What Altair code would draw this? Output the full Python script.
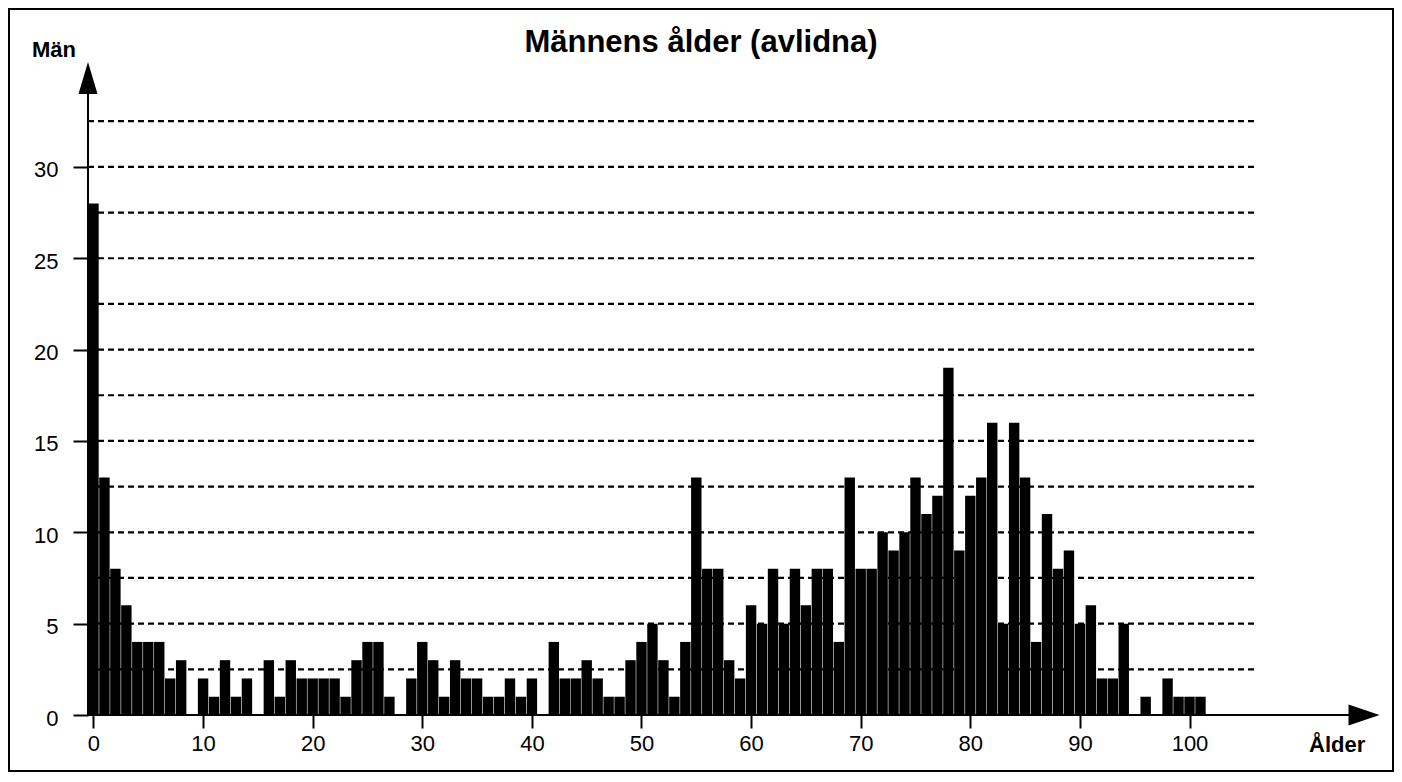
import altair as alt
import pandas as pd

# ---- data ----
ages = list(range(0, 102))
counts = [28, 13, 8, 6, 4, 4, 4, 2, 3, 0,
          2, 1, 3, 1, 2, 0, 3, 1, 3, 2,
          2, 2, 2, 1, 3, 4, 4, 1, 0, 2,
          4, 3, 1, 3, 2, 2, 1, 1, 2, 1,
          2, 0, 4, 2, 2, 3, 2, 1, 1, 3,
          4, 5, 3, 1, 4, 13, 8, 8, 3, 2,
          6, 5, 8, 5, 8, 6, 8, 8, 4, 13,
          8, 8, 10, 9, 10, 13, 11, 12, 19, 9,
          12, 13, 16, 5, 16, 13, 4, 11, 8, 9,
          5, 6, 2, 2, 5, 0, 1, 0, 2, 1,
          1, 1]
x_ticks = list(range(0, 101, 10))
y_ticks = [0, 5, 10, 15, 20, 25, 30]
grid_levels = [2.5, 5, 7.5, 10, 12.5, 15, 17.5, 20, 22.5, 25, 27.5, 30, 32.5]
grid_end_age = 106

title_text = "Männens ålder (avlidna)"
y_title = "Män"
x_title = "Ålder"

FONT = "Liberation Sans, Arial, Helvetica, sans-serif"
W, H = 1292, 653

df = pd.DataFrame({"age": ages, "count": counts})
gdf = pd.DataFrame({"g": grid_levels})
one = pd.DataFrame({"a": [0]})

xs = alt.Scale(domain=[-0.5, 117.38], nice=False, zero=False)
ys = alt.Scale(domain=[0, 35.74], nice=False, zero=True)

grid = alt.Chart(gdf).mark_rule(color="black", strokeWidth=2.2, strokeDash=[6, 4]).encode(
    x=alt.datum(-0.5, scale=xs),
    x2=alt.datum(grid_end_age),
    y=alt.Y("g:Q", scale=ys),
)

bars = alt.Chart(df).transform_calculate(
    x0="datum.age - 0.475", x1="datum.age + 0.475"
).mark_rect(color="black").encode(
    x=alt.X("x0:Q", scale=xs, axis=alt.Axis(
        values=x_ticks, domain=False, grid=False, tickSize=13, tickWidth=2,
        tickColor="black", labelFontSize=22, labelFont=FONT, labelColor="black",
        labelPadding=5, title=None, labelFlush=False)),
    x2="x1:Q",
    y=alt.Y("count:Q", scale=ys, axis=alt.Axis(
        values=y_ticks, domain=False, grid=False, tickSize=15, tickWidth=2,
        tickColor="black", labelFontSize=22, labelFont=FONT, labelColor="black",
        labelPadding=15, labelOffset=3, title=None)),
    y2=alt.datum(0),
)

yaxis_line = alt.Chart(one).mark_rule(color="black", strokeWidth=2).encode(
    x=alt.value(0), y=alt.value(30), y2=alt.value(H))
xaxis_line = alt.Chart(one).mark_rule(color="black", strokeWidth=2).encode(
    x=alt.value(-1), x2=alt.value(1262), y=alt.value(H))

up_arrow = alt.Chart(one).mark_point(
    filled=True, color="black", opacity=1, strokeWidth=0, size=1024,
    shape="M -0.594 1 L 0 -1 L 0.594 1 Z").encode(x=alt.value(0), y=alt.value(16))
right_arrow = alt.Chart(one).mark_point(
    filled=True, color="black", opacity=1, strokeWidth=0, size=961,
    shape="M -1 -0.677 L 1 0 L -1 0.677 Z").encode(x=alt.value(1276), y=alt.value(H))

title = alt.Chart(one).mark_text(
    text=title_text, font=FONT, fontSize=31, fontWeight="bold", color="black",
    align="center", baseline="alphabetic").encode(x=alt.value(613), y=alt.value(-10))
ylab = alt.Chart(one).mark_text(
    text=y_title, font=FONT, fontSize=22, fontWeight="bold", color="black",
    align="left", baseline="alphabetic").encode(x=alt.value(-56), y=alt.value(-5))
xlab = alt.Chart(one).mark_text(
    text=x_title, font=FONT, fontSize=22, fontWeight="bold", color="black",
    align="left", baseline="alphabetic").encode(x=alt.value(1221), y=alt.value(690))

border = alt.Chart(one).mark_rect(
    fillOpacity=0, stroke="black", strokeWidth=2).encode(
    x=alt.value(-79), x2=alt.value(1305), y=alt.value(-53), y2=alt.value(709))

chart = alt.layer(
    border, grid, bars, yaxis_line, xaxis_line, up_arrow, right_arrow, title, ylab, xlab
).properties(
    width=W, height=H,
    autosize=alt.AutoSizeParams(type="none"),
    padding={"left": 80, "top": 54, "right": 14, "bottom": 57},
    background="white",
).configure_view(stroke=None)

chart.save("out.html", embed_options={"renderer": "svg", "actions": False})
